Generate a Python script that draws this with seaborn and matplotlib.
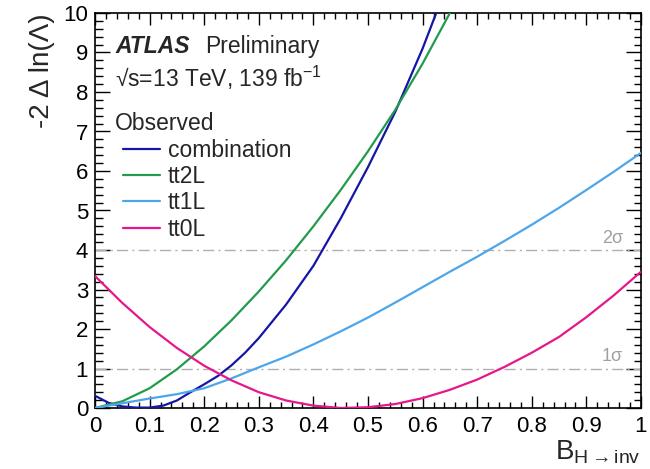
import numpy as np
import pandas as pd
import matplotlib
matplotlib.use("Agg")
import matplotlib.pyplot as plt
from matplotlib.ticker import MultipleLocator, FixedLocator
import seaborn as sns

# Observed -2 Delta ln(Lambda) scans vs B(H -> inv)
comb_x = [0.0, 0.025, 0.05, 0.075, 0.10, 0.125, 0.15, 0.175, 0.20, 0.225,
          0.25, 0.275, 0.30, 0.35, 0.40, 0.45, 0.50, 0.55, 0.60, 0.65]
comb_y = [0.31, 0.13, 0.04, 0.01, 0.01, 0.06, 0.19, 0.40, 0.60, 0.81,
          1.08, 1.40, 1.77, 2.62, 3.60, 4.80, 6.10, 7.50, 9.10, 10.9]

tt2l_x = [0.0, 0.05, 0.10, 0.15, 0.20, 0.25, 0.30, 0.35, 0.40, 0.45,
          0.50, 0.55, 0.60, 0.65]
tt2l_y = [0.00, 0.17, 0.50, 0.98, 1.56, 2.22, 2.95, 3.74, 4.60, 5.52,
          6.50, 7.55, 8.72, 10.0]

grid_x = [0.0, 0.05, 0.10, 0.15, 0.20, 0.25, 0.30, 0.35, 0.40, 0.45, 0.50,
          0.55, 0.60, 0.65, 0.70, 0.75, 0.80, 0.85, 0.90, 0.95, 1.00]
tt1l_y = [0.00, 0.12, 0.24, 0.35, 0.50, 0.75, 1.03, 1.30, 1.61, 1.94, 2.29,
          2.67, 3.06, 3.45, 3.83, 4.23, 4.64, 5.07, 5.52, 5.98, 6.46]
tt0l_y = [3.34, 2.66, 2.05, 1.52, 1.07, 0.70, 0.40, 0.19, 0.06, 0.00, 0.02,
          0.10, 0.25, 0.46, 0.72, 1.04, 1.40, 1.80, 2.30, 2.85, 3.45]

channels = ["combination", "tt2L", "tt1L", "tt0L"]
colors = {"combination": "#1616a6", "tt2L": "#239a4c",
          "tt1L": "#4ea6ea", "tt0L": "#e5178b"}

x_ticks = [0, 0.1, 0.2, 0.3, 0.4, 0.5, 0.6, 0.7, 0.8, 0.9, 1]
x_tick_labels = ["0", "0.1", "0.2", "0.3", "0.4", "0.5", "0.6", "0.7", "0.8", "0.9", "1"]
y_ticks = list(range(0, 11))
sigma_levels = [1, 4]
sigma_labels = ["1σ", "2σ"]

df = pd.concat([
    pd.DataFrame({"x": comb_x, "y": comb_y, "channel": "combination"}),
    pd.DataFrame({"x": tt2l_x, "y": tt2l_y, "channel": "tt2L"}),
    pd.DataFrame({"x": grid_x, "y": tt1l_y, "channel": "tt1L"}),
    pd.DataFrame({"x": grid_x, "y": tt0l_y, "channel": "tt0L"}),
], ignore_index=True)

sns.set_style("ticks")
plt.rcParams["font.family"] = ["Liberation Sans", "DejaVu Sans"]
plt.rcParams["mathtext.fontset"] = "custom"
plt.rcParams["mathtext.rm"] = "Liberation Sans"
plt.rcParams["mathtext.it"] = "Liberation Sans:italic"
plt.rcParams["mathtext.default"] = "regular"

fig = plt.figure(figsize=(6.5, 4.69), dpi=100)
ax = fig.add_axes([95 / 650, 1 - 408 / 469, 546 / 650, 395 / 469])

# significance reference lines
for lvl, lab in zip(sigma_levels, sigma_labels):
    ax.axhline(lvl, color="#b0b0b0", lw=1.0, ls=(0, (8, 3, 1.5, 3)), zorder=1)
    ax.text(0.967, lvl + 0.08, lab, color="#a0a0a0", fontsize=13,
            ha="right", va="bottom", transform=ax.get_yaxis_transform())

sns.lineplot(data=df, x="x", y="y", hue="channel", hue_order=channels,
             palette=colors, estimator=None, sort=True, linewidth=1.6,
             ax=ax, zorder=3)

ax.set_xlim(0, 1)
ax.set_ylim(0, 10)
ax.xaxis.set_major_locator(FixedLocator(x_ticks))
ax.set_xticklabels(x_tick_labels)
ax.xaxis.set_minor_locator(MultipleLocator(0.02))
ax.set_yticks(y_ticks)
ax.yaxis.set_minor_locator(MultipleLocator(0.2))

ax.tick_params(axis="both", which="both", direction="in", top=True, right=True,
               colors="black", labelsize=16)
ax.tick_params(axis="x", which="major", length=8.6, width=1.0, pad=6)
ax.tick_params(axis="x", which="minor", length=4.3, width=1.0)
ax.tick_params(axis="y", which="major", length=10.8, width=1.0, pad=5)
ax.tick_params(axis="y", which="minor", length=5.4, width=1.0)
for sp in ax.spines.values():
    sp.set_color("black")
    sp.set_linewidth(1.2)

ax.set_xlabel(r"B$_{\mathrm{H \rightarrow inv}}$", fontsize=20, loc="right", labelpad=1)
ax.set_ylabel("-2 Δ ln(Λ)", fontsize=20, loc="top", labelpad=6)

ax.text(0.037, 0.899, "ATLAS", fontsize=16.5, fontweight="bold", fontstyle="italic",
        transform=ax.transAxes, ha="left", va="baseline")
ax.text(0.202, 0.899, "Preliminary", fontsize=16.5,
        transform=ax.transAxes, ha="left", va="baseline")
ax.text(0.037, 0.813, r"√s=13 TeV, 139 fb$^{\mathrm{-1}}$", fontsize=16.5,
        transform=ax.transAxes, ha="left", va="baseline")
ax.text(0.037, 0.705, "Observed", fontsize=16.5,
        transform=ax.transAxes, ha="left", va="baseline")

sns.move_legend(ax, loc="upper left", bbox_to_anchor=(0.0513, 0.682),
                title=None, frameon=False, fontsize=16.5, borderpad=0,
                handlelength=1.6, handletextpad=0.35, labelspacing=0.15,
                borderaxespad=0)

fig.savefig("out.png", dpi=100)
